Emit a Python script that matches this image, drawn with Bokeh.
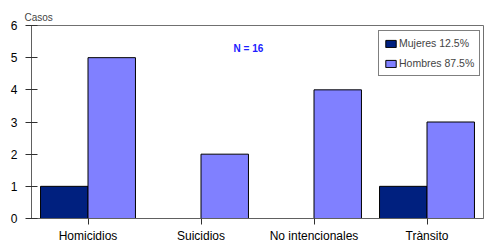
from bokeh.plotting import figure
from bokeh.models import FactorRange, Range1d, Label, Legend, LegendItem, ColumnDataSource
from bokeh.transform import dodge
from bokeh.embed import file_html
from bokeh.resources import INLINE

categories = ["Homicidios", "Suicidios", "No intencionales", "Trànsito"]
mujeres = [1, 0, 0, 1]
hombres = [5, 2, 4, 3]
series_labels = ["Mujeres 12.5%", "Hombres 87.5%"]
y_label = "Casos"
note = "N = 16"

FONT = "Liberation Sans"

src = ColumnDataSource(data=dict(cat=categories, muj=mujeres, hom=hombres))

p = figure(x_range=FactorRange(*categories), y_range=Range1d(0, 6),
           width=485, height=247, output_backend="svg", toolbar_location=None,
           min_border_left=31, min_border_right=2, min_border_top=25, min_border_bottom=29)
p.title.text = y_label
p.title.align = "left"
p.title.text_font = FONT
p.title.text_font_size = "10px"
p.title.text_font_style = "normal"
p.title.offset = -7
p.title.standoff = 6
p.xgrid.visible = False
p.ygrid.visible = False
p.outline_line_color = "#707070"
p.background_fill_color = "white"
p.border_fill_color = "white"

r1 = p.vbar(x=dodge("cat", -0.21, range=p.x_range), top="muj", width=0.42, source=src,
            fill_color="#00207f", line_color="black", line_width=1)
r2 = p.vbar(x=dodge("cat", 0.21, range=p.x_range), top="hom", width=0.42, source=src,
            fill_color="#8080ff", line_color="black", line_width=1)

for ax in (p.xaxis[0], p.yaxis[0]):
    ax.axis_line_color = "#606060"
    ax.major_tick_line_color = "#303030"
    ax.minor_tick_line_color = None
    ax.major_label_text_font = FONT
    ax.major_label_text_font_size = "12px"
    ax.major_label_text_color = "black"

p.yaxis.ticker = [0, 1, 2, 3, 4, 5, 6]
p.yaxis.major_tick_in = 6
p.yaxis.major_tick_out = 6
p.yaxis.major_label_standoff = 8
p.xaxis.major_tick_in = 0
p.xaxis.major_tick_out = 6
p.xaxis.major_label_standoff = 4

legend = Legend(items=[LegendItem(label=series_labels[0], renderers=[r1]),
                       LegendItem(label=series_labels[1], renderers=[r2])],
                location=(347, 142), orientation="vertical")
legend.label_text_font = FONT
legend.label_text_font_size = "10.5px"
legend.label_standoff = 2
legend.glyph_width = 13
legend.glyph_height = 9
legend.label_height = 14
legend.spacing = 6
legend.padding = 5
legend.margin = 0
legend.border_line_color = "black"
legend.border_line_width = 1
legend.background_fill_color = "white"
legend.background_fill_alpha = 1
p.add_layout(legend, "center")

p.add_layout(Label(x=1.92, y=5.28, text=note, text_font=FONT, text_font_size="10px",
                   text_font_style="bold", text_color="#2020ff",
                   text_align="center", text_baseline="middle"))

open("out.html", "w").write(file_html(p, INLINE))
